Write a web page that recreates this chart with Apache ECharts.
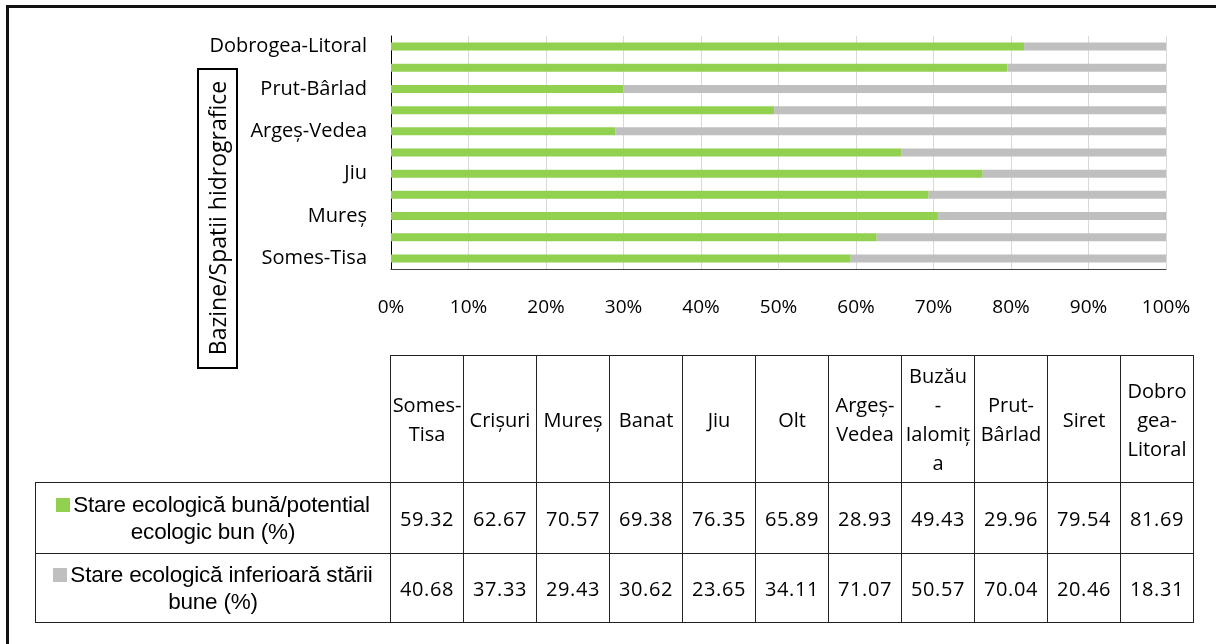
<!DOCTYPE html>
<html>
<head>
<meta charset="utf-8">
<script src="https://cdn.jsdelivr.net/npm/echarts@6/dist/echarts.min.js"></script>
<style>
  html, body { margin: 0; padding: 0; background: #fff; }
  body { width: 1216px; height: 644px; position: relative; overflow: hidden; }
  .frame { position: absolute; left: 6px; top: 5px; width: 1240px; height: 700px; border: 3px solid #111; }
  #chart { position: absolute; left: 0; top: 0; width: 1216px; height: 644px; }
  .tbl { position: absolute; left: 35px; top: 355px; border-collapse: collapse; table-layout: fixed; }
  .tbl td { border: 1px solid #222; text-align: center; vertical-align: middle; padding: 0; color: #000; }
  .tbl td.corner { border-top: none; border-left: none; }
  .tbl .head td { height: 126px; font-family: 'Open Sans', 'Noto Sans', sans-serif; font-size: 20px; line-height: 29px; white-space: pre-line; }
  .tbl .row td { font-family: 'Open Sans', 'Noto Sans', sans-serif; font-size: 20px; letter-spacing: 0.6px; }
  .tbl .row td.lbl { font-family: 'Liberation Sans', Arial, sans-serif; font-size: 22.5px; line-height: 27px; padding: 0 2px; letter-spacing: -0.2px; }
  .key { display: inline-block; width: 14px; height: 14px; margin-right: 3px; }
</style>
</head>
<body>
<div class="frame"></div>
<div id="chart"></div>
<table class="tbl" id="tbl"></table>
<script>
// categorii (de jos in sus pe grafic, de la stanga la dreapta in tabel)
const categories = ['Somes-Tisa', 'Crișuri', 'Mureș', 'Banat', 'Jiu', 'Olt', 'Argeș-Vedea', 'Buzău-Ialomița', 'Prut-Bârlad', 'Siret', 'Dobrogea-Litoral'];
const headerLabels = ['Somes-\nTisa', 'Crișuri', 'Mureș', 'Banat', 'Jiu', 'Olt', 'Argeș-\nVedea', 'Buzău\n-\nIalomiț\na', 'Prut-\nBârlad', 'Siret', 'Dobro\ngea-\nLitoral'];
const seriesNames = ['Stare ecologică bună/potential ecologic bun (%)', 'Stare ecologică inferioară stării bune (%)'];
const goodValues = [59.32, 62.67, 70.57, 69.38, 76.35, 65.89, 28.93, 49.43, 29.96, 79.54, 81.69];
const poorValues = [40.68, 37.33, 29.43, 30.62, 23.65, 34.11, 71.07, 50.57, 70.04, 20.46, 18.31];
const xTicks = [0, 10, 20, 30, 40, 50, 60, 70, 80, 90, 100];
const colors = ['#92D050', '#BFBFBF'];

const fontLbl = "'Open Sans', 'Noto Sans', sans-serif";

const chart = echarts.init(document.getElementById('chart'));
chart.setOption({
  animation: false,
  grid: { left: 391, right: 50, top: 36, height: 233 },
  xAxis: {
    type: 'value',
    min: xTicks[0],
    max: xTicks[xTicks.length - 1],
    interval: 10,
    axisLine: { show: true, lineStyle: { color: '#404040', width: 1 } },
    axisTick: { show: false },
    splitLine: { lineStyle: { color: '#D9D9D9', width: 1 } },
    axisLabel: { formatter: '{value}%', margin: 29, color: '#000', fontSize: 19, fontFamily: fontLbl }
  },
  yAxis: {
    type: 'category',
    data: categories,
    axisLine: { show: true, lineStyle: { color: '#000', width: 1 } },
    axisTick: { show: false },
    axisLabel: { interval: 1, margin: 24, color: '#000', fontSize: 20, fontFamily: fontLbl }
  },
  graphic: [
    { type: 'rect', shape: { x: 198, y: 69, width: 39, height: 299 }, style: { fill: '#fff', stroke: '#000', lineWidth: 2 } },
    { type: 'text', x: 219, y: 218, rotation: Math.PI / 2,
      style: { text: 'Bazine/Spatii hidrografice', align: 'center', verticalAlign: 'middle', fill: '#000', fontSize: 23, fontFamily: fontLbl } }
  ],
  series: [
    { name: seriesNames[0], type: 'bar', stack: 'tot', data: goodValues, barWidth: 8, itemStyle: { color: colors[0] } },
    { name: seriesNames[1], type: 'bar', stack: 'tot', data: poorValues, barWidth: 8, itemStyle: { color: colors[1] } }
  ]
});

// tabel de date sub grafic
const tbl = document.getElementById('tbl');
let html = '<colgroup><col style="width:355px">';
categories.forEach(() => { html += '<col style="width:73px">'; });
html += '</colgroup><tr class="head"><td class="corner"></td>';
headerLabels.forEach(h => { html += '<td>' + h + '</td>'; });
html += '</tr>';
[goodValues, poorValues].forEach((vals, i) => {
  html += '<tr class="row" style="height:' + (i === 0 ? 71 : 69) + 'px"><td class="lbl"><span class="key" style="background:' + colors[i] + '"></span>' + seriesNames[i] + '</td>';
  vals.forEach(v => { html += '<td>' + v.toFixed(2) + '</td>'; });
  html += '</tr>';
});
tbl.innerHTML = html;
</script>
</body>
</html>
